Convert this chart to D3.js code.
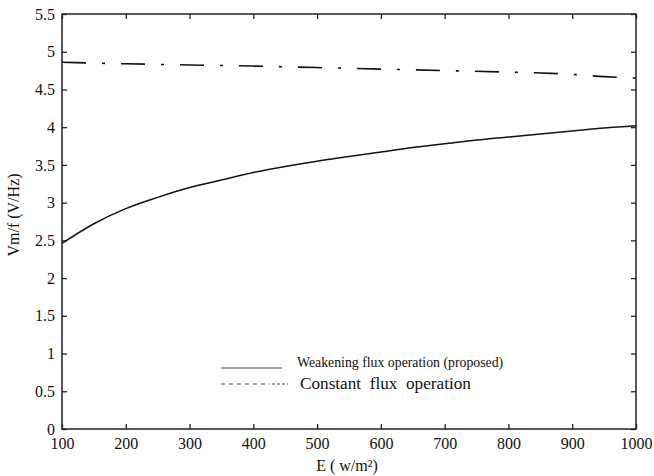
<!DOCTYPE html>
<html><head><meta charset="utf-8">
<script src="https://cdn.jsdelivr.net/npm/d3@7"></script>
<style>
body{margin:0;background:#fff;}
svg text{font-family:"Liberation Serif","Times New Roman",serif !important;fill:#111;}
</style></head>
<body><svg id="c" width="654" height="476"></svg>
<script>
const irradiance = [100,150,200,250,300,350,400,450,500,550,600,650,700,750,800,850,900,950,1000];
const weakeningFlux = [2.46,2.72,2.92,3.07,3.20,3.30,3.40,3.48,3.55,3.61,3.67,3.73,3.78,3.83,3.87,3.91,3.95,3.99,4.02];
const constantE = [100,200,300,400,500,600,700,800,900,950,1000];
const constantFlux = [4.86,4.84,4.825,4.81,4.79,4.77,4.75,4.73,4.70,4.67,4.65];
const xTicks = [100,200,300,400,500,600,700,800,900,1000];
const yTicks = [0,0.5,1,1.5,2,2.5,3,3.5,4,4.5,5,5.5];
const legendLabels = ["Weakening flux operation (proposed)","Constant  flux  operation"];

const svg = d3.select("#c");
const m = {l:62, r:18, t:14, b:47};
const W = 654, H = 476;
const x = d3.scaleLinear().domain([100,1000]).range([m.l, W-m.r]);
const y = d3.scaleLinear().domain([0,5.5]).range([H-m.b, m.t]);

const serif = "'Liberation Serif','Times New Roman',serif";
const fmt = d => String(d);
const axisStyle = g => {
  g.attr("font-family", serif);
  g.select(".domain").remove();
  g.selectAll(".tick line").attr("stroke","#222").attr("stroke-width",1.3);
  g.selectAll(".tick text").attr("font-size",16).attr("fill","#111").style("font-family",serif);
};
svg.append("g").attr("transform",`translate(0,${H-m.b})`)
  .call(d3.axisBottom(x).tickValues(xTicks).tickFormat(fmt).tickSize(-5).tickPadding(9)).call(axisStyle);
svg.append("g").attr("transform",`translate(0,${m.t})`)
  .call(d3.axisTop(x).tickValues(xTicks).tickFormat("").tickSize(-5)).call(axisStyle);
svg.append("g").attr("transform",`translate(${m.l},0)`)
  .call(d3.axisLeft(y).tickValues(yTicks).tickFormat(fmt).tickSize(-5).tickPadding(7)).call(axisStyle);
svg.append("g").attr("transform",`translate(${W-m.r},0)`)
  .call(d3.axisRight(y).tickValues(yTicks).tickFormat("").tickSize(-5)).call(axisStyle);

svg.append("rect").attr("x",m.l).attr("y",m.t).attr("width",W-m.l-m.r).attr("height",H-m.t-m.b)
  .attr("fill","none").attr("stroke","#222").attr("stroke-width",1.5);

const line = d3.line().x(d=>x(d[0])).y(d=>y(d[1])).curve(d3.curveMonotoneX);
svg.append("path").datum(irradiance.map((e,i)=>[e,weakeningFlux[i]]))
  .attr("d",line).attr("fill","none").attr("stroke","#111").attr("stroke-width",1.5);
svg.append("path").datum(constantE.map((e,i)=>[e,constantFlux[i]]))
  .attr("d",line).attr("fill","none").attr("stroke","#111").attr("stroke-width",1.6)
  .attr("stroke-dasharray","24,16,3,16");

// legend
const lg = svg.append("g");
lg.append("line").attr("x1",221).attr("x2",282).attr("y1",368).attr("y2",368)
  .attr("stroke","#444").attr("stroke-width",1.2);
lg.append("line").attr("x1",221).attr("x2",270).attr("y1",384).attr("y2",384)
  .attr("stroke","#444").attr("stroke-width",1.2).attr("stroke-dasharray","4,4");
lg.append("line").attr("x1",272).attr("x2",288).attr("y1",384).attr("y2",384)
  .attr("stroke","#444").attr("stroke-width",1.2).attr("stroke-dasharray","3,2");
lg.append("text").attr("x",297).attr("y",367).attr("font-size",13.8).text(legendLabels[0]);
lg.append("text").attr("x",300).attr("y",389).attr("font-size",17.2)
  .style("white-space","pre").attr("xml:space","preserve").text(legendLabels[1]);

svg.append("text").attr("x",347).attr("y",471).attr("text-anchor","middle").attr("font-size",16)
  .style("white-space","pre").text("E ( w/m²)");
svg.append("text").attr("transform","translate(19,215) rotate(-90)").attr("text-anchor","middle")
  .attr("font-size",16).text("Vm/f (V/Hz)");
</script></body></html>
